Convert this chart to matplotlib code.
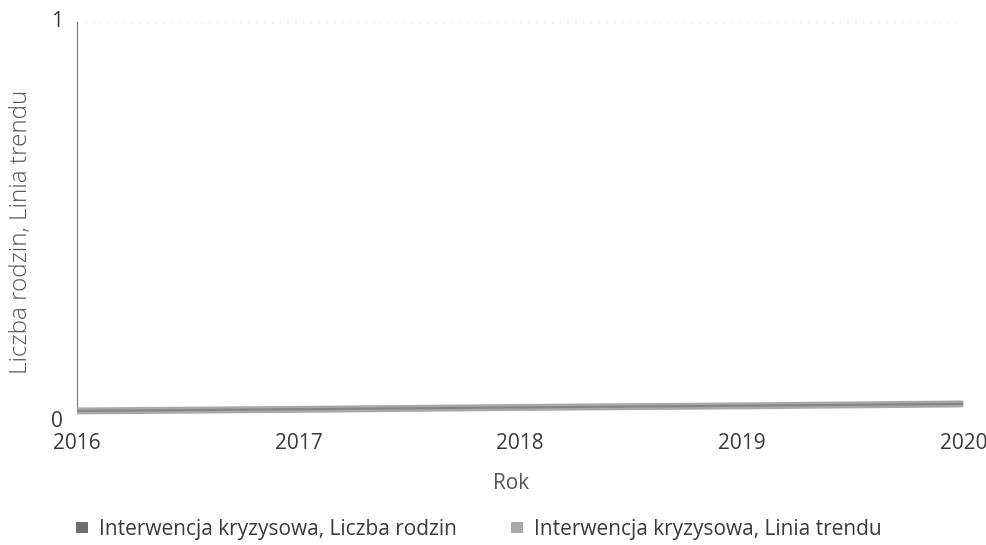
import matplotlib.pyplot as plt
from matplotlib.patches import Patch

plt.rcParams['font.family'] = ['Open Sans', 'DejaVu Sans']

years = [2016, 2017, 2018, 2019, 2020]
families = [0.0, 0.004, 0.009, 0.013, 0.018]
trend = [0.0, 0.0045, 0.009, 0.0135, 0.018]

series_labels = ['Interwencja kryzysowa, Liczba rodzin', 'Interwencja kryzysowa, Linia trendu']
series_colors = ['#6e6e6e', '#a8a8a8']
text_color = '#3a3a3a'

fig = plt.figure(figsize=(9.87, 5.45), dpi=100)
ax = fig.add_axes([0.078, 0.246, 0.898, 0.714])

ax.plot(years, families, color=series_colors[1], lw=5, solid_capstyle='butt', zorder=3, clip_on=False)
ax.plot(years, trend, color=series_colors[0], lw=1.5, solid_capstyle='butt', zorder=4, clip_on=False, alpha=0.6)

ax.set_xlim(2016, 2020)
ax.set_ylim(0, 1)
ax.set_xticks(years)
ax.set_yticks([0, 1])
ax.tick_params(length=0, labelsize=15, colors=text_color)
ax.tick_params(axis='x', pad=16)
ax.tick_params(axis='y', pad=10)
for lbl in ax.get_yticklabels():
    lbl.set_verticalalignment('top' if lbl.get_text() == '0' else 'center')

ax.axhline(1, color='#cccccc', lw=0.8, ls=(0, (1, 6)), zorder=1)
for side in ['top', 'right', 'bottom']:
    ax.spines[side].set_visible(False)
ax.spines['left'].set_color('#777777')
ax.spines['left'].set_linestyle((0, (2, 1)))
ax.spines['left'].set_linewidth(0.8)

ax.set_xlabel('Rok', fontsize=15, color='#555555')
ax.xaxis.set_label_coords(0.49, -0.16)
ax.set_ylabel('Liczba rodzin, Linia trendu', fontsize=17.5, color='#555555', fontweight='light')
ax.yaxis.set_label_coords(-0.05, 0.46)

handles = [Patch(facecolor=c, edgecolor='none') for c in series_colors]
fig.legend(handles, series_labels, loc='lower center', bbox_to_anchor=(0.485, -0.025),
           ncol=2, frameon=False, fontsize=15, labelcolor=text_color,
           handlelength=0.6, handleheight=0.45, handletextpad=0.5, columnspacing=2.6)

fig.savefig('out.png', dpi=100)
